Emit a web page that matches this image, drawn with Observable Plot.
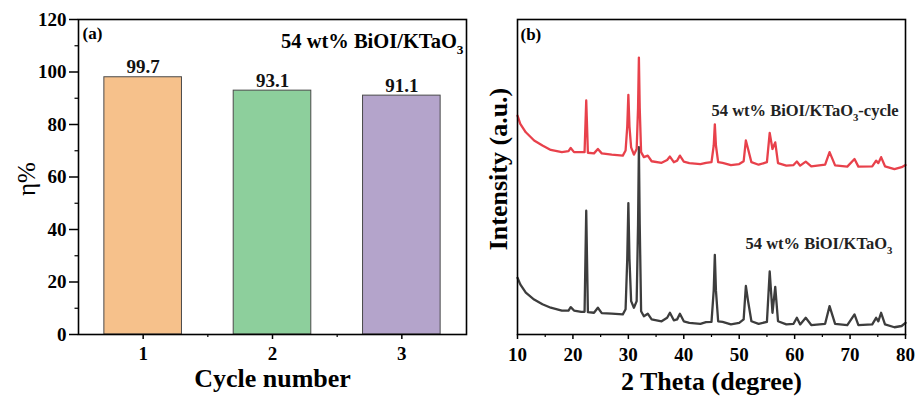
<!DOCTYPE html>
<html><head><meta charset="utf-8">
<script src="https://cdn.jsdelivr.net/npm/d3@7"></script>
<script src="https://cdn.jsdelivr.net/npm/@observablehq/plot@0.6"></script>
<style>
body{margin:0;background:#fff}
#wrap{display:flex;width:917px;height:396px;overflow:hidden}
svg{display:block}
</style>
</head><body><div id="wrap"></div>
<script>
// ---------- Panel (a) data ----------
const cycles = [1, 2, 3];
const efficiency = [98.0, 92.9, 91.0];
const effLabels = ["99.7", "93.1", "91.1"];
const barColors = ["#f6c18b", "#8dcf9c", "#b4a4cb"];
const yTicksA = [0, 20, 40, 60, 80, 100, 120];
const yMinorA = [10, 30, 50, 70, 90, 110];
const xTicksA = [1, 2, 3];
const xMinorA = [1.5, 2.5];

// ---------- Panel (b) data ----------
const theta = [10, 10.5, 11.5, 13, 14.5, 16, 18, 19.2, 19.6, 20.2, 21.5, 22.1, 22.4, 22.7, 23.8, 24.5, 25.2, 27, 29, 29.5,
  29.8, 30.0, 30.2, 30.5, 31.0, 31.5, 31.75, 31.9, 32.05, 32.3, 32.8, 33.5, 34.2, 36, 37.0, 37.5, 38.2, 38.8, 39.3, 40.0,
  41, 43, 44, 45.0, 45.4, 45.6, 45.8, 46.2, 47, 48.5, 50, 50.8, 51.2, 51.6, 52.2, 53.5, 55.0, 55.5, 56.0, 56.5,
  57.0, 58.5, 59.8, 60.4, 61.0, 62.0, 63, 65.5, 66.3, 67.3, 69.5, 70.8, 71.5, 74, 74.7, 75.1, 75.6, 76.3, 78, 79.3, 80];
const blackI = [18.0, 15.9, 13.3, 11.1, 9.6, 8.5, 7.6, 7.6, 8.7, 7.6, 7.2, 7.2, 39.3, 7.1, 6.9, 8.5, 6.8, 6.6, 6.4, 8.0,
  24, 41.7, 24, 10.6, 8.5, 10.6, 35, 59.5, 35, 7.4, 5.8, 6.6, 4.8, 4.2, 5.3, 6.9, 4.5, 4.8, 6.6, 4.2,
  3.7, 3.4, 3.9, 4.0, 14, 25.3, 14, 4.2, 4.0, 3.2, 3.7, 4.8, 15.4, 10.6, 4.2, 3.4, 4.0, 20.0, 6.9, 15.1,
  4.2, 3.2, 3.4, 5.3, 3.2, 5.3, 3.0, 3.4, 9.0, 3.4, 3.0, 6.4, 3.0, 3.2, 5.3, 4.2, 6.9, 3.2, 2.3, 2.7, 3.7];
const redI = [69.5, 66.9, 64.2, 61.6, 60.0, 58.6, 57.9, 58.2, 59.2, 57.9, 57.9, 57.9, 74.3, 57.7, 57.5, 58.9, 57.5, 57.1, 56.8, 58.4,
  66, 76.1, 66, 59.4, 57.1, 58.9, 72, 87.9, 72, 57.9, 56.3, 56.8, 55.0, 54.5, 55.4, 56.5, 54.7, 55.2, 56.8, 54.9,
  54.4, 54.1, 54.5, 54.7, 60, 66.7, 60, 54.7, 54.5, 53.8, 54.1, 55.0, 61.6, 58.9, 54.7, 53.9, 54.7, 64.0, 58.9, 61.0,
  54.4, 53.6, 53.8, 54.9, 53.6, 54.9, 53.4, 53.9, 57.9, 53.7, 53.3, 55.7, 53.3, 53.4, 55.2, 54.4, 56.3, 53.4, 52.5, 53.1, 53.8];
const xTicksB = [10, 20, 30, 40, 50, 60, 70, 80];
const xMinorB = [15, 25, 35, 45, 55, 65, 75];
const seriesNames = ["54 wt% BiOI/KTaO3-cycle", "54 wt% BiOI/KTaO3"];

const serif = "'Liberation Serif', 'Times New Roman', serif";
const barHalf = 0.3;

const barData = cycles.map((c, i) => ({c, v: efficiency[i], label: effLabels[i], color: barColors[i]}));
const black = theta.map((t, i) => ({t, v: blackI[i]}));
const red = theta.map((t, i) => ({t, v: redI[i]}));

const plotA = Plot.plot({
  width: 470, height: 396, marginLeft: 78, marginRight: 4, marginTop: 19, marginBottom: 62,
  style: {fontFamily: serif, color: "#000", background: "#fff", overflow: "visible", fontSize: "19px", fontWeight: "bold"},
  x: {domain: [0.5, 3.5], axis: null},
  y: {domain: [0, 120], axis: null},
  marks: [
    Plot.rectY(barData, {x1: d => d.c - barHalf, x2: d => d.c + barHalf, y1: 0, y2: "v", fill: "color", stroke: "#4a4a4a", strokeWidth: 1}),
    Plot.text(barData, {x: "c", y: "v", text: "label", dy: -10, fontSize: 19, fontWeight: "bold", fill: "#111"}),
    Plot.axisY({ticks: yTicksA, tickSize: 9, tickPadding: 3, label: null, strokeWidth: 1.5, tickFormat: d => d}),
    Plot.axisY({ticks: yMinorA, tickSize: 3.5, tickFormat: () => "", label: null, strokeWidth: 1.2}),
    Plot.axisX({ticks: xTicksA, tickSize: 5, tickPadding: 7, label: null, strokeWidth: 1.5, tickFormat: d => d}),
    Plot.axisX({ticks: xMinorA, tickSize: 3, tickFormat: () => "", label: null, strokeWidth: 1.2}),
    Plot.text(["(a)"], {text: d => d, frameAnchor: "top-left", textAnchor: "start", lineAnchor: "middle", dx: 4, dy: 14, fontSize: 17, fontWeight: "bold"}),
    Plot.text(["54 wt% BiOI/KTaO3"], {text: d => d, frameAnchor: "top-right", textAnchor: "end", lineAnchor: "middle", dx: -3, dy: 22, fontSize: 20.5, fontWeight: "bold"}),
    Plot.text(["Cycle number"], {text: d => d, frameAnchor: "bottom", lineAnchor: "middle", dy: 44, fontSize: 26, fontWeight: "bold"}),
    Plot.text(["η%"], {text: d => d, frameAnchor: "left", textAnchor: "middle", lineAnchor: "middle", rotate: -90, dx: -52, dy: 2, fontSize: 25, fontWeight: "normal"}),
    Plot.frame({stroke: "#000", strokeWidth: 1.6})
  ]
});

const plotB = Plot.plot({
  width: 447, height: 396, marginLeft: 47, marginRight: 12, marginTop: 19, marginBottom: 62,
  style: {fontFamily: serif, color: "#000", background: "#fff", overflow: "visible", fontSize: "19px", fontWeight: "bold"},
  x: {domain: [10, 80], axis: null},
  y: {domain: [0, 100], axis: null},
  marks: [
    Plot.line(black, {x: "t", y: "v", stroke: "#3d3d3d", strokeWidth: 2.3, strokeLinejoin: "round"}),
    Plot.line(red, {x: "t", y: "v", stroke: "#e8414b", strokeWidth: 2.3, strokeLinejoin: "round"}),
    Plot.axisX({ticks: xTicksB, tickSize: 5, tickPadding: 8, label: null, strokeWidth: 1.5, tickFormat: d => d}),
    Plot.axisX({ticks: xMinorB, tickSize: 3, tickFormat: () => "", label: null, strokeWidth: 1.2}),
    Plot.text(["(b)"], {text: d => d, frameAnchor: "top-left", textAnchor: "start", lineAnchor: "middle", dx: 3, dy: 15, fontSize: 17, fontWeight: "bold"}),
    Plot.text([seriesNames[0]], {text: d => d, frameAnchor: "top-left", textAnchor: "start", lineAnchor: "middle", dx: 194, dy: 91, fontSize: 16.5, fontWeight: "bold", fill: "#222"}),
    Plot.text([seriesNames[1]], {text: d => d, frameAnchor: "top-left", textAnchor: "start", lineAnchor: "middle", dx: 228, dy: 224, fontSize: 16.5, fontWeight: "bold", fill: "#222"}),
    Plot.text(["2 Theta (degree)"], {text: d => d, frameAnchor: "bottom", lineAnchor: "middle", dy: 47, fontSize: 26, fontWeight: "bold"}),
    Plot.text(["Intensity (a.u.)"], {text: d => d, frameAnchor: "left", textAnchor: "middle", lineAnchor: "middle", rotate: -90, dx: -19, dy: -8, fontSize: 26, fontWeight: "bold"}),
    Plot.frame({stroke: "#000", strokeWidth: 1.6})
  ]
});

function subscriptify(svg) {
  const NS = "http://www.w3.org/2000/svg";
  svg.querySelectorAll("text").forEach(t => {
    const s = t.textContent;
    const k = s.indexOf("KTaO3");
    if (k < 0 || t.children.length) return;
    const before = s.slice(0, k + 4), after = s.slice(k + 5);
    t.textContent = "";
    const a = document.createElementNS(NS, "tspan"); a.textContent = before; t.appendChild(a);
    const b = document.createElementNS(NS, "tspan"); b.textContent = "3";
    b.setAttribute("font-size", "0.65em"); b.setAttribute("dy", "0.45em"); t.appendChild(b);
    if (after) {
      const c = document.createElementNS(NS, "tspan"); c.textContent = after;
      c.setAttribute("dy", "-0.3em"); t.appendChild(c);
    }
  });
}
subscriptify(plotA); subscriptify(plotB);
document.getElementById("wrap").append(plotA, plotB);
</script>
</body></html>
